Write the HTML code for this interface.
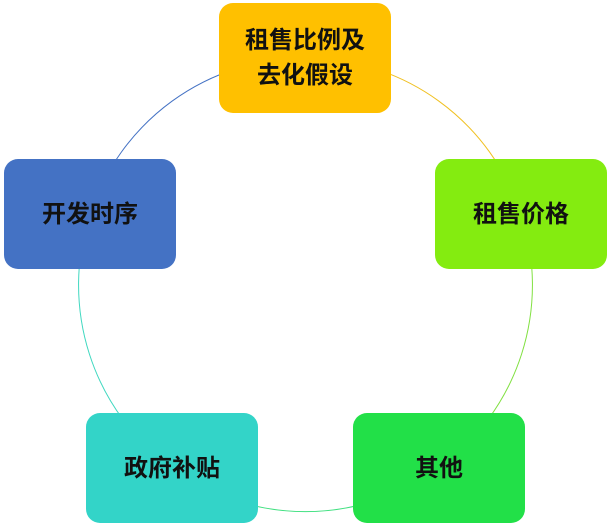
<!DOCTYPE html>
<html><head><meta charset="utf-8"><style>
html,body{margin:0;padding:0;background:#fff;}
body{width:614px;height:528px;position:relative;overflow:hidden;font-family:"Liberation Sans","Noto Sans CJK SC",sans-serif;}
.b{position:absolute;width:172px;height:110px;border-radius:14px;display:flex;align-items:center;justify-content:center;text-align:center;font-size:24px;font-weight:bold;color:#111;line-height:35px;}
svg{position:absolute;left:0;top:0;}
</style></head><body>
<svg width="614" height="528">
<path d="M305 58 A226 226 0 0 1 521 214" fill="none" stroke="#F0C020" stroke-width="1"/>
<path d="M521 214 A226 226 0 0 1 439 468" fill="none" stroke="#80E040" stroke-width="1"/>
<path d="M439 468 A226 226 0 0 1 172 468" fill="none" stroke="#40E080" stroke-width="1"/>
<path d="M172 468 A226 226 0 0 1 90 214" fill="none" stroke="#40D8C0" stroke-width="1"/>
<path d="M90 214 A226 226 0 0 1 305 58" fill="none" stroke="#4472C4" stroke-width="1"/>
</svg>
<div class="b" style="left:219px;top:3px;background:#FFC000;">租售比例及<br>去化假设</div>
<div class="b" style="left:435px;top:159px;background:#84EC10;">租售价格</div>
<div class="b" style="left:353px;top:413px;background:#22E048;">其他</div>
<div class="b" style="left:86px;top:413px;background:#33D4C8;">政府补贴</div>
<div class="b" style="left:4px;top:159px;background:#4472C4;">开发时序</div>
</body></html>
